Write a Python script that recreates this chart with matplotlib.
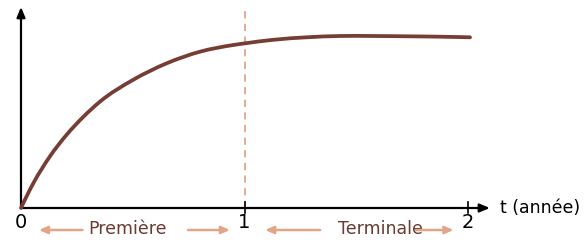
import matplotlib
matplotlib.use("Agg")
import matplotlib.pyplot as plt
from matplotlib.path import Path
from matplotlib.patches import PathPatch

# Data (y in arbitrary units)
t_vals = [0.0, 0.055, 0.130, 0.204, 0.279, 0.353, 0.502, 0.652, 0.801,
          0.950, 1.0, 1.129, 1.278, 1.427, 1.576, 1.726, 1.875, 2.009]
y_vals = [0.0, 24.7, 51.8, 73.2, 91.2, 106.3, 128.2, 144.7, 156.3,
          163.0, 164.6, 168.2, 170.7, 172.0, 172.0, 171.7, 171.3, 170.7]
tick_labels = ["0", "1", "2"]
tick_pos = [0, 1, 2]
periods = ["Première", "Terminale"]
x_label = "t (année)"

curve_color = "#763d35"
accent = "#e3a588"
text_brown = "#6a3a33"

XS = 223.5  # px per unit of t

fig = plt.figure(figsize=(5.84, 2.42), dpi=100)
ax = fig.add_axes([0, 0, 1, 1])
ax.set_xlim(-21 / XS, (584 - 21) / XS)
ax.set_ylim(-34, 208)
ax.axis("off")

# dashed line at t=1
ax.plot([1, 1], [0, 201], color=accent, lw=1.3, ls=(0, (4, 3)), zorder=1)

# axes arrows
ax.annotate("", xy=(0, 201), xytext=(0, 0),
            arrowprops=dict(arrowstyle="-|>,head_length=0.6,head_width=0.25",
                            color="black", lw=1.6, shrinkA=0, shrinkB=0))
ax.annotate("", xy=(2.098, 0), xytext=(0, 0),
            arrowprops=dict(arrowstyle="-|>,head_length=0.6,head_width=0.25",
                            color="black", lw=1.6, shrinkA=0, shrinkB=0))

# ticks
for p in tick_pos[1:]:
    ax.plot([p, p], [-5, 6], color="black", lw=1.2)

# smooth curve through the read points (cubic Hermite -> Bezier)
xs = list(t_vals)
ys = list(y_vals)
n = len(xs)
h = [xs[i + 1] - xs[i] for i in range(n - 1)]
d = [(ys[i + 1] - ys[i]) / h[i] for i in range(n - 1)]
m = [0.0] * n
m[0] = d[0] + (d[0] - d[1]) * h[0] / (h[0] + h[1])
m[-1] = d[-1]
for i in range(1, n - 1):
    m[i] = (d[i - 1] * h[i] + d[i] * h[i - 1]) / (h[i - 1] + h[i])
verts = [(xs[0], ys[0])]
codes = [Path.MOVETO]
for i in range(n - 1):
    c1 = (xs[i] + h[i] / 3, ys[i] + m[i] * h[i] / 3)
    c2 = (xs[i + 1] - h[i] / 3, ys[i + 1] - m[i + 1] * h[i] / 3)
    verts += [c1, c2, (xs[i + 1], ys[i + 1])]
    codes += [Path.CURVE4] * 3
ax.add_patch(PathPatch(Path(verts, codes), fill=False, edgecolor=curve_color,
                       lw=2.7, capstyle="round", zorder=3))

# tick labels
for p, lab in zip(tick_pos, tick_labels):
    ax.text(p, -14.5, lab, ha="center", va="center", fontsize=14, color="black")

ax.text(2.145, 0, x_label, ha="left", va="center", fontsize=12.5, color="black")

# period labels with arrows
ax.text(0.478, -21, periods[0], ha="center", va="center", fontsize=12.5, color=text_brown)
ax.text(1.61, -21, periods[1], ha="center", va="center", fontsize=12.5, color=text_brown)

def harrow(x0, x1, y):
    ax.annotate("", xy=(x1, y), xytext=(x0, y),
                arrowprops=dict(arrowstyle="-|>,head_length=0.5,head_width=0.22",
                                color=accent, lw=1.8, shrinkA=0, shrinkB=0))

yb = -22
harrow(0.275, 0.080, yb)
harrow(0.747, 0.935, yb)
harrow(1.339, 1.092, yb)
harrow(1.767, 1.935, yb)

fig.savefig("out.png", dpi=100)
